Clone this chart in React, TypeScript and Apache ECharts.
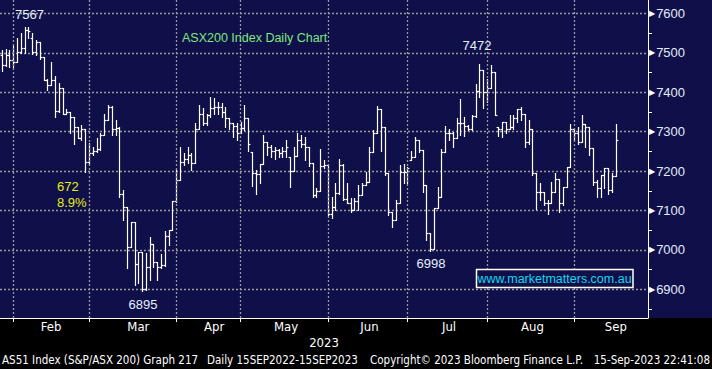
import { useEffect, useRef } from 'react';
import * as echarts from 'echarts';

// ---------- categories (trading days) ----------
const tradingDays: [string, number[]][] = [
  ['2023-01', [25, 27, 30, 31]],
  ['2023-02', [1, 2, 3, 6, 7, 8, 9, 10, 13, 14, 15, 16, 17, 20, 21, 22, 23, 24, 27, 28]],
  ['2023-03', [1, 2, 3, 6, 7, 8, 9, 10, 13, 14, 15, 16, 17, 20, 21, 22, 23, 24, 27, 28, 29, 30, 31]],
  ['2023-04', [3, 4, 5, 6, 11, 12, 13, 14, 17, 18, 19, 20, 21, 24, 26, 27, 28]],
  ['2023-05', [1, 2, 3, 4, 5, 8, 9, 10, 11, 12, 15, 16, 17, 18, 19, 22, 23, 24, 25, 26, 29, 30, 31]],
  ['2023-06', [1, 2, 5, 6, 7, 8, 9, 13, 14, 15, 16, 19, 20, 21, 22, 23, 26, 27, 28, 29, 30]],
  ['2023-07', [3, 4, 5, 6, 7, 10, 11, 12, 13, 14, 17, 18, 19, 20, 21, 24, 25, 26, 27, 28, 31]],
  ['2023-08', [1, 2, 3, 4, 7, 8, 9, 10, 11, 14, 15, 16, 17, 18, 21, 22, 23, 24, 25, 28, 29, 30, 31]],
  ['2023-09', [1, 4, 5, 6, 7, 8, 11, 12, 13, 14, 15, 18, 19, 20, 21, 22, 25, 26, 27]],
];
const categories: string[] = tradingDays.flatMap(([m, ds]) => ds.map((d) => `${m}-${String(d).padStart(2, '0')}`));

// month names shown on the axis and the category where each is centred
const monthNames = ['Feb', 'Mar', 'Apr', 'May', 'Jun', 'Jul', 'Aug', 'Sep'];
const monthLabelDates = ['2023-02-14', '2023-03-17', '2023-04-18', '2023-05-16', '2023-06-16', '2023-07-17', '2023-08-16', '2023-09-15'];
// last trading day of each month (month gridlines)
const monthEndDates = ['2023-01-31', '2023-02-28', '2023-03-31', '2023-04-28', '2023-05-31', '2023-06-30', '2023-07-31', '2023-08-31'];

// ---------- OHLC values ----------
const opens = [
  7495, 7469, 7495, 7482, 7478, 7503, 7512, 7558, 7539, 7503, 7528, 7490, 7431, 7419, 7431, 7352, 7410, 7346, 7351, 7338,
  7313, 7285, 7306, 7224, 7245, 7250, 7255, 7291, 7330, 7363, 7308, 7310, 7143, 7108, 7008, 7071, 6965, 6995, 6900, 6957,
  7016, 6970, 6957, 6961, 7035, 7050, 7125, 7177, 7224, 7230, 7240, 7220, 7308, 7346, 7323, 7342, 7359, 7363, 7363, 7351,
  7334, 7323, 7314, 7296, 7310, 7334, 7249, 7196, 7192, 7219, 7274, 7262, 7250, 7253, 7245, 7250, 7236, 7201, 7238, 7279,
  7270, 7262, 7220, 7139, 7150, 7213, 7215, 7092, 7110, 7145, 7215, 7128, 7118, 7101, 7125, 7139, 7164, 7173, 7249, 7297,
  7357, 7313, 7194, 7097, 7077, 7119, 7198, 7198, 7228, 7236, 7278, 7253, 7164, 7042, 7003, 7107, 7135, 7249, 7297, 7297,
  7283, 7323, 7323, 7314, 7308, 7340, 7404, 7456, 7401, 7410, 7452, 7313, 7308, 7325, 7308, 7311, 7336, 7357, 7346, 7274,
  7306, 7194, 7148, 7148, 7118, 7118, 7148, 7181, 7118, 7160, 7211, 7308, 7297, 7274, 7319, 7313, 7258, 7173, 7156, 7190,
  7207, 7152, 7187,
];
const closes = [
  7469, 7495, 7482, 7478, 7503, 7512, 7558, 7556, 7503, 7528, 7490, 7431, 7419, 7431, 7352, 7410, 7346, 7351, 7338, 7313,
  7285, 7306, 7224, 7245, 7250, 7255, 7291, 7330, 7363, 7308, 7310, 7143, 7108, 7008, 7071, 6965, 6995, 6900, 6957, 7016,
  6970, 6957, 6961, 7035, 7050, 7125, 7177, 7224, 7230, 7240, 7220, 7308, 7346, 7323, 7342, 7359, 7363, 7363, 7351, 7334,
  7323, 7314, 7296, 7310, 7334, 7269, 7196, 7192, 7219, 7274, 7262, 7250, 7253, 7245, 7250, 7262, 7201, 7238, 7279, 7270,
  7262, 7220, 7139, 7150, 7213, 7215, 7092, 7110, 7145, 7215, 7128, 7118, 7101, 7125, 7139, 7164, 7173, 7249, 7297, 7357,
  7313, 7194, 7097, 7077, 7119, 7198, 7198, 7207, 7236, 7278, 7253, 7164, 7042, 7003, 7107, 7135, 7249, 7297, 7297, 7283,
  7323, 7323, 7314, 7308, 7340, 7404, 7456, 7401, 7410, 7452, 7342, 7308, 7325, 7308, 7311, 7336, 7357, 7346, 7274, 7306,
  7194, 7148, 7148, 7118, 7118, 7148, 7181, 7118, 7160, 7211, 7308, 7297, 7274, 7319, 7313, 7258, 7173, 7156, 7190, 7207,
  7152, 7187, 7279,
];
const lows = [
  7455, 7468, 7465, 7465, 7476, 7499, 7500, 7539, 7496, 7495, 7484, 7431, 7406, 7418, 7338, 7351, 7346, 7346, 7297, 7270,
  7285, 7280, 7198, 7219, 7240, 7248, 7253, 7291, 7330, 7291, 7291, 7135, 7076, 6953, 7008, 6910, 6915, 6895, 6898, 6923,
  6957, 6923, 6955, 6959, 7012, 7050, 7122, 7177, 7215, 7220, 7202, 7220, 7308, 7317, 7317, 7338, 7346, 7346, 7338, 7313,
  7308, 7287, 7279, 7296, 7304, 7250, 7162, 7143, 7170, 7219, 7240, 7236, 7232, 7236, 7236, 7236, 7160, 7201, 7238, 7262,
  7228, 7213, 7135, 7135, 7150, 7207, 7088, 7080, 7101, 7143, 7126, 7118, 7095, 7101, 7101, 7139, 7164, 7173, 7249, 7296,
  7250, 7190, 7088, 7057, 7075, 7119, 7169, 7169, 7228, 7236, 7249, 7147, 7025, 6998, 7003, 7107, 7135, 7249, 7279, 7262,
  7283, 7291, 7289, 7304, 7304, 7338, 7389, 7359, 7376, 7410, 7342, 7289, 7287, 7296, 7308, 7308, 7325, 7330, 7262, 7270,
  7190, 7105, 7126, 7114, 7092, 7118, 7148, 7097, 7114, 7160, 7211, 7279, 7270, 7274, 7262, 7240, 7164, 7135, 7135, 7156,
  7143, 7148, 7187,
];
const highs = [
  7507, 7509, 7507, 7517, 7537, 7550, 7567, 7565, 7551, 7533, 7528, 7490, 7433, 7476, 7441, 7423, 7412, 7357, 7351, 7338,
  7313, 7316, 7306, 7272, 7262, 7283, 7296, 7345, 7369, 7365, 7330, 7311, 7152, 7108, 7071, 7071, 6995, 6995, 6991, 7032,
  7016, 6970, 6989, 7048, 7050, 7125, 7202, 7262, 7245, 7262, 7245, 7321, 7368, 7359, 7346, 7389, 7385, 7376, 7372, 7363,
  7334, 7323, 7321, 7325, 7367, 7334, 7249, 7202, 7219, 7291, 7274, 7266, 7262, 7257, 7262, 7279, 7236, 7260, 7296, 7291,
  7287, 7262, 7220, 7156, 7255, 7228, 7215, 7135, 7169, 7232, 7218, 7169, 7131, 7131, 7164, 7169, 7198, 7262, 7304, 7365,
  7357, 7313, 7194, 7097, 7126, 7215, 7219, 7211, 7252, 7286, 7278, 7253, 7164, 7042, 7107, 7160, 7255, 7314, 7308, 7300,
  7334, 7383, 7338, 7317, 7342, 7421, 7472, 7456, 7433, 7470, 7452, 7313, 7325, 7325, 7342, 7342, 7357, 7362, 7346, 7330,
  7306, 7194, 7169, 7148, 7126, 7173, 7194, 7181, 7160, 7211, 7319, 7308, 7311, 7342, 7319, 7313, 7258, 7177, 7190, 7207,
  7207, 7194, 7319,
];

const lastPrice = 7279.033;
const majorTicks = [6900, 7000, 7100, 7200, 7300, 7400, 7500, 7600];
const minorTicks = [6850, 6950, 7050, 7150, 7250, 7350, 7450, 7550];
const Y_MIN = 6827.2;
const Y_MAX = 7634.3;

const NAVY = '#0f0f49';
const GRID_COLOR = '#9a9a9a';
const NARROW = "'Liberation Sans Narrow', 'DejaVu Sans Condensed', 'Roboto', sans-serif";
const SANS = "'Liberation Sans', Arial, sans-serif";

export default function App() {
  const ref = useRef<HTMLDivElement>(null);

  useEffect(() => {
    const chart = echarts.init(ref.current!, null, { renderer: 'svg' });
    const ohlc = opens.map((o, i) => [i, o, closes[i], lows[i], highs[i]]);
    const labelIdx: Record<number, string> = {};
    monthLabelDates.forEach((d, k) => { labelIdx[categories.indexOf(d)] = monthNames[k]; });
    const monthEndIdx = new Set(monthEndDates.map((d) => categories.indexOf(d)));
    const dotted = { color: GRID_COLOR, type: [2, 2] as number[], width: 1.3 };

    chart.setOption({
      animation: false,
      backgroundColor: '#000',
      grid: { left: 0, right: 64, top: 0, bottom: 51, containLabel: false },
      xAxis: {
        type: 'category',
        data: categories,
        boundaryGap: true,
        axisLine: { show: true, lineStyle: { color: '#fff', width: 1 } },
        axisTick: {
          show: true,
          alignWithLabel: true,
          interval: (i: number) => monthEndIdx.has(i),
          length: 4,
          lineStyle: { color: '#fff' },
        },
        axisLabel: {
          interval: (i: number) => labelIdx[i] !== undefined,
          formatter: (_v: string, i: number) => labelIdx[i] ?? '',
          color: '#fff',
          fontSize: 13,
          fontFamily: NARROW,
          margin: 2,
        },
        splitLine: { show: false },
      },
      yAxis: [
        {
          type: 'value',
          position: 'right',
          min: Y_MIN,
          max: Y_MAX,
          axisLine: { show: true, lineStyle: { color: '#fff', width: 1 } },
          axisTick: { show: true, customValues: majorTicks, length: 4, lineStyle: { color: '#fff' } },
          axisLabel: {
            customValues: majorTicks,
            margin: 1,
            formatter: (v: number) => `{t|▶}{v|${v}}`,
            rich: {
              t: { fontSize: 8, color: '#fff', padding: [0, 1, 0, 0], fontFamily: 'DejaVu Sans' },
              v: { fontSize: 13, color: '#e2ebf8', fontFamily: SANS },
            },
          },
          splitLine: { show: true, lineStyle: dotted },
        },
        {
          type: 'value',
          position: 'right',
          min: Y_MIN,
          max: Y_MAX,
          axisLine: { show: false },
          axisTick: { show: true, customValues: minorTicks, length: 4, lineStyle: { color: '#fff' } },
          axisLabel: { show: false },
          splitLine: { show: false },
        },
      ],
      series: [
        {
          type: 'line',
          data: [],
          z: 1,
          markLine: {
            silent: true,
            symbol: 'none',
            animation: false,
            data: [
              ...monthEndDates.map((d) => ({ xAxis: d, lineStyle: dotted, label: { show: false } })),
              {
                yAxis: lastPrice,
                lineStyle: { opacity: 0 },
                label: {
                  show: true,
                  position: 'end',
                  distance: 1,
                  formatter: `{a|◀}{b|${lastPrice.toFixed(3)}}`,
                  rich: {
                    a: { color: '#fff', fontSize: 11, fontFamily: 'DejaVu Sans', padding: [0, 0, 0, 0] },
                    b: { backgroundColor: '#fff', color: '#0a0a2a', fontSize: 13, fontFamily: SANS, padding: [1, 3, 0, 0], lineHeight: 15 },
                  },
                },
              },
            ],
          },
        },
        {
          type: 'custom',
          z: 3,
          data: ohlc,
          encode: { x: 0, y: [1, 2, 3, 4] },
          renderItem: (_params: any, api: any) => {
            const xi = api.value(0);
            const pO = api.coord([xi, api.value(1)]);
            const pC = api.coord([xi, api.value(2)]);
            const pL = api.coord([xi, api.value(3)]);
            const pH = api.coord([xi, api.value(4)]);
            const half = api.size([1, 0])[0] / 2;
            const x = Math.round(pH[0]) + 0.5;
            const sy = (y: number) => Math.round(y) + 0.5;
            const style = { stroke: '#fff', lineWidth: 1.2 };
            return {
              type: 'group',
              children: [
                { type: 'line', shape: { x1: x, y1: sy(pH[1]) - 0.5, x2: x, y2: sy(pL[1]) + 0.5 }, style },
                { type: 'line', shape: { x1: x - half, y1: sy(pO[1]), x2: x, y2: sy(pO[1]) }, style },
                { type: 'line', shape: { x1: x, y1: sy(pC[1]), x2: x + half, y2: sy(pC[1]) }, style },
              ],
            };
          },
        },
      ],
      graphic: [
        { type: 'rect', silent: true, z: -100, shape: { x: 0, y: 0, width: 712, height: 318 }, style: { fill: NAVY } },
        { type: 'text', z: 100, x: 29.5, y: 14, style: { text: '7567', fill: '#e6effc', fontSize: 13, fontFamily: SANS, align: 'center', verticalAlign: 'middle' } },
        { type: 'text', z: 100, x: 182, y: 38, style: { text: 'ASX200 Index Daily Chart', fill: '#7ee87e', fontSize: 12.5, fontFamily: SANS, align: 'left', verticalAlign: 'middle' } },
        { type: 'text', z: 100, x: 57, y: 186.5, style: { text: '672', fill: '#e8ee10', fontSize: 13, fontFamily: SANS, align: 'left', verticalAlign: 'middle' } },
        { type: 'text', z: 100, x: 57, y: 202.5, style: { text: '8.9%', fill: '#e8ee10', fontSize: 13, fontFamily: SANS, align: 'left', verticalAlign: 'middle' } },
        { type: 'text', z: 100, x: 143, y: 304, style: { text: '6895', fill: '#e6effc', fontSize: 13, fontFamily: SANS, align: 'center', verticalAlign: 'middle' } },
        { type: 'text', z: 100, x: 477, y: 45, style: { text: '7472', fill: '#e6effc', fontSize: 13, fontFamily: SANS, align: 'center', verticalAlign: 'middle' } },
        { type: 'text', z: 100, x: 431, y: 263.5, style: { text: '6998', fill: '#e6effc', fontSize: 13, fontFamily: SANS, align: 'center', verticalAlign: 'middle' } },
        { type: 'rect', z: 100, shape: { x: 476.5, y: 269.5, width: 156.5, height: 18 }, style: { fill: NAVY, stroke: '#fff', lineWidth: 1.5 } },
        { type: 'text', z: 101, x: 554.5, y: 279, style: { text: 'www.marketmatters.com.au', fill: '#10d8f0', fontSize: 12.5, fontFamily: SANS, align: 'center', verticalAlign: 'middle' } },
        { type: 'text', z: 100, x: 324, y: 342, style: { text: '2023', fill: '#fff', fontSize: 13, fontFamily: NARROW, align: 'center', verticalAlign: 'middle' } },
        { type: 'text', z: 100, x: 2, y: 360, style: { text: 'AS51 Index (S&P/ASX 200) Graph 217', fill: '#fff', fontSize: 11.5, fontFamily: NARROW, align: 'left', verticalAlign: 'middle' } },
        { type: 'text', z: 100, x: 207, y: 360, style: { text: 'Daily 15SEP2022-15SEP2023', fill: '#fff', fontSize: 11.5, fontFamily: NARROW, align: 'left', verticalAlign: 'middle' } },
        { type: 'text', z: 100, x: 370, y: 360, style: { text: 'Copyright© 2023 Bloomberg Finance L.P.', fill: '#fff', fontSize: 11.5, fontFamily: NARROW, align: 'left', verticalAlign: 'middle' } },
        { type: 'text', z: 100, x: 710, y: 360, style: { text: '15-Sep-2023 22:41:08', fill: '#fff', fontSize: 11.5, fontFamily: NARROW, align: 'right', verticalAlign: 'middle' } },
      ],
    });
    return () => chart.dispose();
  }, []);

  return <div ref={ref} style={{ position: 'fixed', left: 0, top: 0, width: 712, height: 369 }} />;
}
